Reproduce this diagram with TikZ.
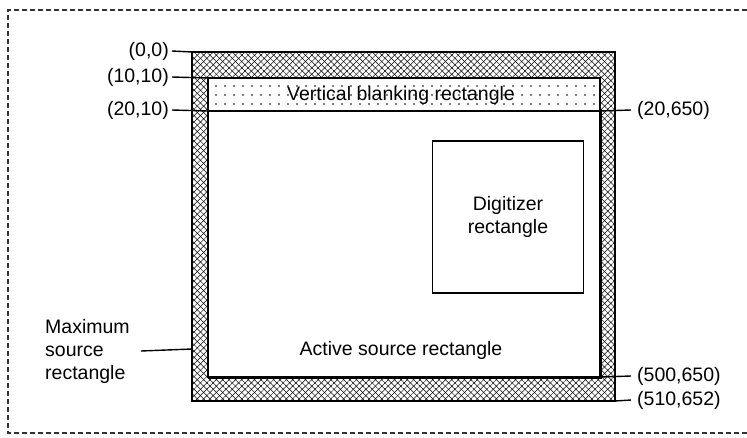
\documentclass[tikz,border=0pt]{standalone}
\usepackage{fontspec}
\setmainfont{Liberation Sans}
\usetikzlibrary{positioning,patterns.meta}

\begin{document}
\begin{tikzpicture}[x=1pt,y=-1pt, every node/.style={font=\fontsize{19.5}{23}\selectfont,inner sep=0pt},
  leftlab/.style={anchor=east,inner xsep=3pt},
  rightlab/.style={anchor=west,inner xsep=6pt},
  edge/.style={line width=1.4pt}]
  \useasboundingbox (0,0) rectangle (747,437);
  % dashed outer frame
  \draw[dash pattern=on 5pt off 3pt,line width=1.3pt,black!80] (747,10) -- (8,10) -- (8,433) -- (747,433);
  % corners of the rectangles
  \coordinate (maxNW) at (192,52);
  \coordinate (maxSE) at (615,401);
  \coordinate (actNW) at (208,78);
  \coordinate (actSE) at (600,377);
  \coordinate (blankSW) at (208,111);
  \coordinate (blankSE) at (600,111);
  \coordinate (maxW) at (192,349);
  % maximum source rectangle
  \fill[pattern={Lines[angle=45,distance=4.5pt,line width=0.5pt]}] (maxNW) rectangle (maxSE);
  \fill[pattern={Lines[angle=-45,distance=4.5pt,line width=0.5pt]}] (maxNW) rectangle (maxSE);
  \fill[white] (actNW) rectangle (actSE);
  % vertical blanking rectangle
  \fill[pattern={Dots[distance=9pt,radius=0.8pt]}] (actNW) rectangle (blankSE);
  \draw[edge] (maxNW) rectangle (maxSE);
  \draw[edge] (actNW) rectangle (actSE);
  \draw[line width=2.2pt] (blankSW) -- (blankSE);
  \draw[line width=3pt] (208,377) -- (actSE) -- (600,110);
  \node (blank) at (401,95) {Vertical blanking rectangle};
  % digitizer rectangle
  \node[draw,edge,minimum width=151pt,minimum height=152pt,align=center] (digitizer) at (508,217) {Digitizer\\rectangle};
  \node (active) at (401,350) {Active source rectangle};
  \node[align=left,anchor=west] (maxsrc) at (45,351) {Maximum\\source\\rectangle};
  % corner labels
  \node[leftlab] (c00) at (172,51) {(0,0)};
  \node[leftlab] (c1010) at (172,77) {(10,10)};
  \node[leftlab] (c2010) at (172,110) {(20,10)};
  \node[rightlab] (c20650) at (631,110) {(20,650)};
  \node[rightlab] (c500650) at (631,376) {(500,650)};
  \node[rightlab] (c510652) at (631,400) {(510,652)};
  \draw[edge] (c00.east) -- (maxNW);
  \draw[edge] (c1010.east) -- (actNW);
  \draw[edge] (c2010.east) -- (blankSW);
  \draw[edge] (blankSE) -- (c20650.west);
  \draw[edge] (actSE) -- (c500650.west);
  \draw[edge] (maxSE) -- (c510652.west);
  \draw[edge] ([xshift=11pt]maxsrc.east) -- (maxW);
\end{tikzpicture}
\end{document}
